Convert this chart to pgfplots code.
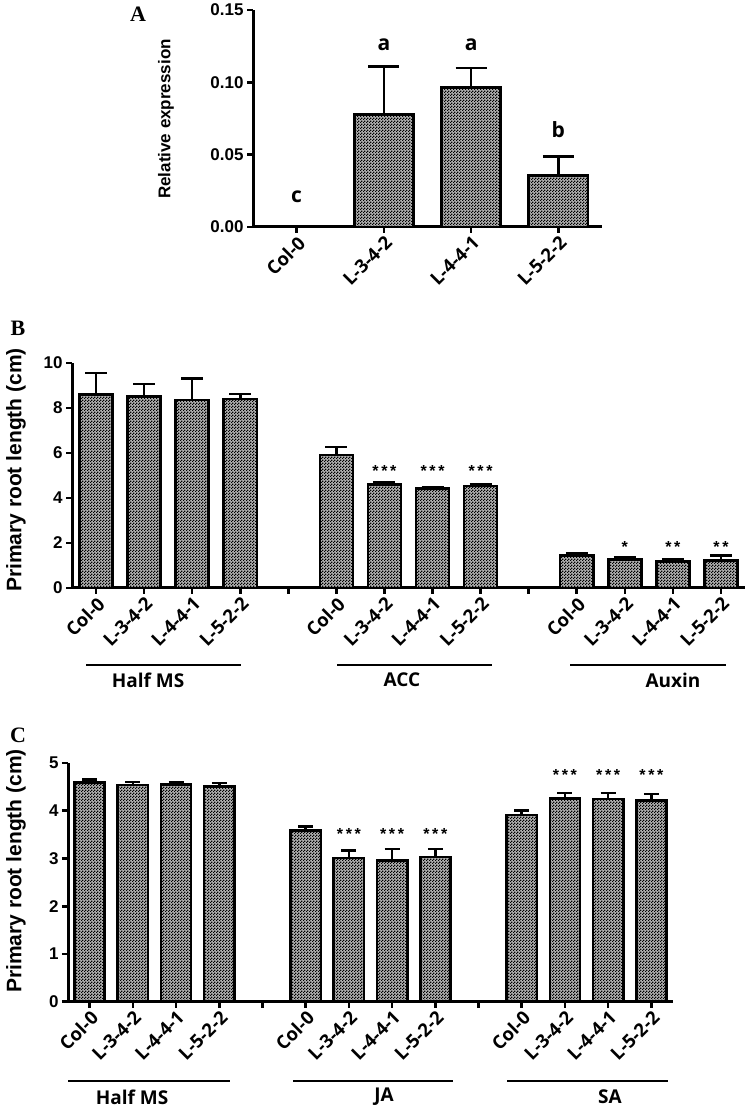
\documentclass[border=0pt]{standalone}
\usepackage{fontspec}
\setmainfont{Liberation Sans}
\newfontfamily\arb{Liberation Sans Bold}
\newfontfamily\osb{Open Sans Bold}
\newfontfamily\tnr{Liberation Serif Bold}
\usepackage{pgfplots}
\pgfplotsset{compat=1.18}
\usetikzlibrary{patterns}
\pgfdeclarepatternformonly{checker}{\pgfpointorigin}{\pgfqpoint{3pt}{3pt}}{\pgfqpoint{3pt}{3pt}}{%
  \pgfpathrectangle{\pgfpointorigin}{\pgfqpoint{1.5pt}{1.5pt}}%
  \pgfpathrectangle{\pgfqpoint{1.5pt}{1.5pt}}{\pgfqpoint{1.5pt}{1.5pt}}%
  \pgfusepath{fill}}
\pgfplotsset{
  panel/.style={
    scale only axis, anchor=south west, clip=false,
    axis lines*=left, axis line style={line width=3pt},
    tick style={line width=2.6pt, black}, major tick length=6pt, tick align=outside,
    xtick pos=bottom, ytick pos=left,
    x tick label style={font=\osb\fontsize{18.5}{18.5}\selectfont, rotate=45, anchor=north east, inner sep=1pt},
    y tick label style={font=\arb\fontsize{17}{17}\selectfont},
    /pgf/number format/assume math mode=true,
  },
  barsty/.style={ybar, draw=black, line width=2.6pt, fill=black!30,
    postaction={pattern=checker, pattern color=black},
    error bars/.cd, y dir=plus, y explicit,
    error bar style={line width=2.6pt, solid, black},
    error mark options={rotate=90, line width=2.6pt, mark size=#1, black},
    /pgfplots/.cd},
}
\newcommand{\stars}[1]{\arb\fontsize{16}{16}\selectfont #1}
\begin{document}
\begin{tikzpicture}[x=1pt,y=1pt]
\useasboundingbox (0,0) rectangle (750,1107);
% ---------- Panel A ----------
\node[font=\tnr\fontsize{22}{22}\selectfont] at (138,1093) {A};
\node[rotate=90, font=\arb\fontsize{17}{17}\selectfont] at (166,988) {Relative expression};
\begin{axis}[panel, at={(253pt,880pt)}, width=349pt, height=217pt,
  xmin=-0.5, xmax=3.5, ymin=0, ymax=0.15,
  ytick={0,0.05,0.1,0.15}, yticklabels={0.00,0.05,0.10,0.15},
  xtick={0,1,2,3}, xticklabels={Col-0,L-3-4-2,L-4-4-1,L-5-2-2}]
\addplot[bar width=0.68, barsty=15.5pt] coordinates {
  (0,0.0005) +- (0,0)
  (1,0.0779) +- (0,0.0331)
  (2,0.0965) +- (0,0.0135)
  (3,0.0354) +- (0,0.0132)};
\node[font=\osb\fontsize{21}{21}\selectfont] at (axis cs:0,0.021) {c};
\node[font=\osb\fontsize{21}{21}\selectfont] at (axis cs:1,0.126) {a};
\node[font=\osb\fontsize{21}{21}\selectfont] at (axis cs:2,0.126) {a};
\node[font=\osb\fontsize{21}{21}\selectfont] at (axis cs:3,0.067) {b};
\end{axis}
% ---------- Panel B ----------
\node[font=\tnr\fontsize{22}{22}\selectfont] at (18,779) {B};
\node[rotate=90, font=\arb\fontsize{21}{21}\selectfont] at (16,637) {Primary root length (cm)};
\begin{axis}[panel, at={(72pt,519pt)}, width=673pt, height=225pt,
  xmin=-0.5, xmax=13.5, ymin=0, ymax=10, ytick={0,2,4,6,8,10},
  xtick={0,1,2,3,4,5,6,7,8,9,10,11,12,13},
  xticklabels={Col-0,L-3-4-2,L-4-4-1,L-5-2-2,{},Col-0,L-3-4-2,L-4-4-1,L-5-2-2,{},Col-0,L-3-4-2,L-4-4-1,L-5-2-2}]
\addplot[bar width=0.69, barsty=11pt] coordinates {
  (0,8.60) +- (0,0.96)
  (1,8.52) +- (0,0.55)
  (2,8.36) +- (0,0.94)
  (3,8.40) +- (0,0.22)
  (5,5.91) +- (0,0.36)
  (6,4.60) +- (0,0.10)
  (7,4.43) +- (0,0.06)
  (8,4.53) +- (0,0.06)
  (10,1.44) +- (0,0.12)
  (11,1.27) +- (0,0.11)
  (12,1.17) +- (0,0.12)
  (13,1.23) +- (0,0.21)};
\node at (axis cs:6,5.2) {\stars{*\,*\,*}};
\node at (axis cs:7,5.2) {\stars{*\,*\,*}};
\node at (axis cs:8,5.2) {\stars{*\,*\,*}};
\node at (axis cs:11,1.82) {\stars{*}};
\node at (axis cs:12,1.82) {\stars{*\,*}};
\node at (axis cs:13,1.82) {\stars{*\,*}};
\end{axis}
\draw[line width=2.8pt] (86,442) -- (241,442);
\draw[line width=2.8pt] (337,442) -- (492,442);
\draw[line width=2.8pt] (570,442) -- (726,442);
\node[font=\osb\fontsize{19}{19}\selectfont] at (148,427) {Half MS};
\node[font=\osb\fontsize{19}{19}\selectfont] at (402,427) {ACC};
\node[font=\osb\fontsize{19}{19}\selectfont] at (673,427) {Auxin};
% ---------- Panel C ----------
\node[font=\tnr\fontsize{22}{22}\selectfont] at (18,372) {C};
\node[rotate=90, font=\arb\fontsize{21}{21}\selectfont] at (16,236) {Primary root length (cm)};
\begin{axis}[panel, at={(68pt,105.3pt)}, width=605pt, height=238.7pt,
  xmin=-0.5, xmax=13.5, ymin=0, ymax=5, ytick={0,1,2,3,4,5},
  xtick={0,1,2,3,4,5,6,7,8,9,10,11,12,13},
  xticklabels={Col-0,L-3-4-2,L-4-4-1,L-5-2-2,{},Col-0,L-3-4-2,L-4-4-1,L-5-2-2,{},Col-0,L-3-4-2,L-4-4-1,L-5-2-2}]
\addplot[bar width=0.70, barsty=7.5pt] coordinates {
  (0,4.59) +- (0,0.06)
  (1,4.54) +- (0,0.06)
  (2,4.55) +- (0,0.04)
  (3,4.51) +- (0,0.07)
  (5,3.58) +- (0,0.09)
  (6,3.01) +- (0,0.16)
  (7,2.96) +- (0,0.24)
  (8,3.03) +- (0,0.17)
  (10,3.91) +- (0,0.09)
  (11,4.26) +- (0,0.11)
  (12,4.25) +- (0,0.12)
  (13,4.21) +- (0,0.14)};
\node at (axis cs:6,3.52) {\stars{*\,*\,*}};
\node at (axis cs:7,3.52) {\stars{*\,*\,*}};
\node at (axis cs:8,3.52) {\stars{*\,*\,*}};
\node at (axis cs:11,4.74) {\stars{*\,*\,*}};
\node at (axis cs:12,4.74) {\stars{*\,*\,*}};
\node at (axis cs:13,4.74) {\stars{*\,*\,*}};
\end{axis}
\draw[line width=2.8pt] (68,26) -- (230,26);
\draw[line width=2.8pt] (293,26) -- (453,26);
\draw[line width=2.8pt] (507,26) -- (668,26);
\node[font=\osb\fontsize{19}{19}\selectfont] at (132,10) {Half MS};
\node[font=\osb\fontsize{19}{19}\selectfont] at (384,10) {JA};
\node[font=\osb\fontsize{19}{19}\selectfont] at (610,10) {SA};
\end{tikzpicture}
\end{document}
